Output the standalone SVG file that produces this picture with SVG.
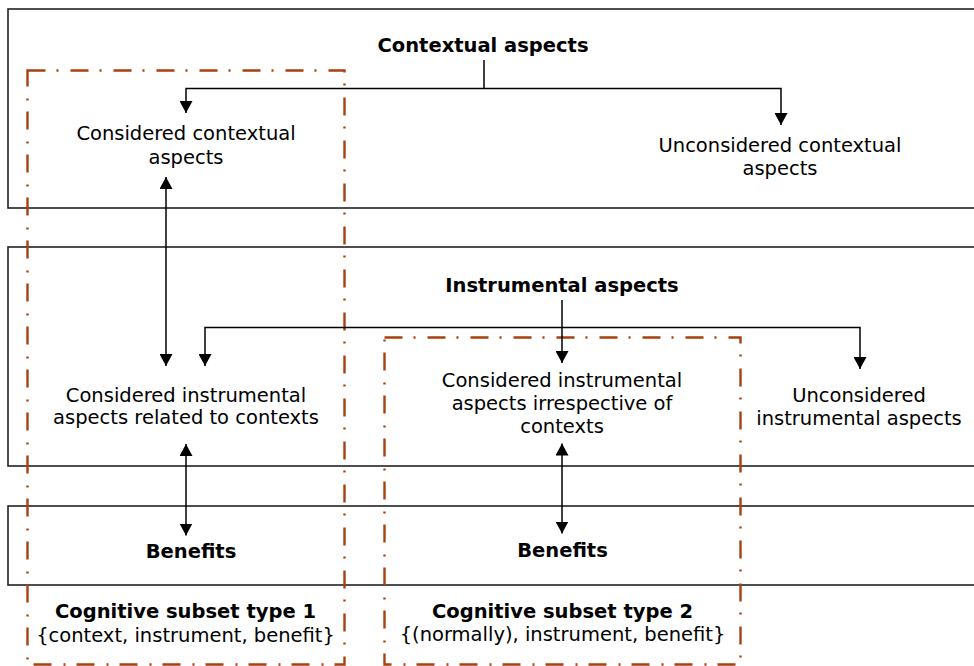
<svg xmlns="http://www.w3.org/2000/svg" width="974" height="666" viewBox="0 0 974 666">
<defs>
<marker id="ah" viewBox="0 0 12 13" refX="12" refY="6.5" markerWidth="12" markerHeight="13" markerUnits="userSpaceOnUse" orient="auto-start-reverse">
<path d="M0,0 L12,6.5 L0,13 Z" fill="#000"/>
</marker>
<style>
.band{fill:none;stroke:#222;stroke-width:1.6}
.sub{fill:none;stroke:#A8400F;stroke-width:2.4;stroke-dasharray:18 11 2 12}
.t{font-family:"DejaVu Sans",Verdana,sans-serif;font-size:19.5px;fill:#000;text-anchor:middle}
.b{font-weight:bold}
.c{fill:none;stroke:#000;stroke-width:1.5}
.a{marker-end:url(#ah)}
.aa{marker-start:url(#ah);marker-end:url(#ah)}
</style>
</defs>
<rect width="974" height="666" fill="#fff"/>
<g id="band-contextual"><rect class="band" x="8" y="9" width="980" height="199"/>
<text class="t b" x="483" y="51.5">Contextual aspects</text></g>
<g id="band-instrumental"><rect class="band" x="8" y="247" width="980" height="219"/>
<text class="t b" x="562" y="291.5">Instrumental aspects</text></g>
<g id="band-benefits"><rect class="band" x="8" y="506" width="980" height="79"/></g>
<g id="considered-contextual"><text class="t" x="186" y="140"><tspan x="186">Considered contextual</tspan><tspan x="186" dy="23.5">aspects</tspan></text></g>
<g id="unconsidered-contextual"><text class="t" x="780" y="151.5"><tspan x="780">Unconsidered contextual</tspan><tspan x="780" dy="23.5">aspects</tspan></text></g>
<g id="considered-instr-ctx"><text class="t" x="186" y="401.5"><tspan x="186">Considered instrumental</tspan><tspan x="186" dy="22.5">aspects related to contexts</tspan></text></g>
<g id="considered-instr-irr"><text class="t" x="562" y="386.5"><tspan x="562">Considered instrumental</tspan><tspan x="562" dy="23.3">aspects irrespective of</tspan><tspan x="562" dy="23.3">contexts</tspan></text></g>
<g id="unconsidered-instr"><text class="t" x="859" y="401.5"><tspan x="859">Unconsidered</tspan><tspan x="859" dy="23.3">instrumental aspects</tspan></text></g>
<g id="benefits-1"><text class="t b" x="191" y="558">Benefits</text></g>
<g id="benefits-2"><text class="t b" x="562.5" y="556.5">Benefits</text></g>
<g id="subset-1"><rect class="sub" x="27.5" y="70.5" width="317" height="594"/>
<text class="t b" x="185.5" y="618">Cognitive subset type 1</text>
<text class="t" x="185.5" y="641.5">{context, instrument, benefit}</text></g>
<g id="subset-2"><rect class="sub" x="384.5" y="337.5" width="356" height="327"/>
<text class="t b" x="562.5" y="617.5">Cognitive subset type 2</text>
<text class="t" x="562.5" y="641">{(normally), instrument, benefit}</text></g>
<g id="connectors">
<path class="c" d="M484,60 V88.5"/>
<path class="c a" d="M484,88.5 H186 V113"/>
<path class="c a" d="M484,88.5 H781 V125"/>
<path class="c aa" d="M166,177 V366"/>
<path class="c a" d="M562,300 V363"/>
<path class="c a" d="M562,327.5 H205 V366"/>
<path class="c a" d="M562,327.5 H860 V369"/>
<path class="c aa" d="M186,444 V535.5"/>
<path class="c aa" d="M562,443.5 V533.5"/>
</g>
</svg>
